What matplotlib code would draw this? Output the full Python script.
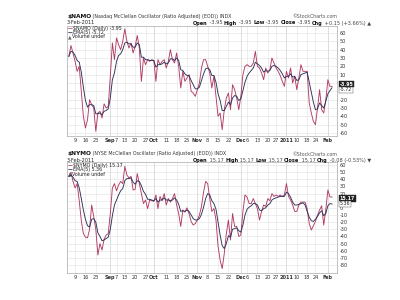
import numpy as np
import pandas as pd
import matplotlib.pyplot as plt

# trading days shown (Aug 4 2010 .. Feb 3 2011, market holidays removed)
holidays = ['2010-09-06', '2010-11-25', '2010-12-24', '2011-01-17']
days = pd.bdate_range('2010-08-04', '2011-02-03')
days = days[~days.isin(pd.to_datetime(holidays))]

# $NAMO daily and its EMA(5)
namo = [32, 45, 36, 26, 14, 20, -10, -40, -54, -44,
        -20, -26, -30, -58, -36, -34, -42, -25, -30, -28,
        8, 48, 28, 54, 46, 40, 50, 65, 50, 42,
        48, 36, 44, 57, 42, 2, 30, 22, 28, 26,
        28, 27, 2, 28, 22, 26, 28, 18, 26, 40,
        28, 24, 36, 20, -6, 14, 2, 6, 10, -10,
        -12, -16, -8, 0, 18, 28, 28, 20, 12, -6,
        8, -16, -40, -36, -56, -32, -18, -12, -32, -2,
        -8, -18, -32, -16, 10, 20, 22, 20, 20, 24,
        38, 20, 18, 12, 4, 18, 12, 16, 30, 24,
        18, 14, 9, 2, -4, 14, 6, 18, 0, 8,
        -8, 6, 22, 14, 14, 14, -24, -36, -46, -50,
        -30, -8, -32, -36, -20, 4, -4.10, -3.95]
namo_ema = [32, 38, 37, 33, 27, 25, 13, -5, -21, -29,
            -26, -26, -27, -37, -37, -36, -38, -34, -33, -31,
            -18, 4, 12, 26, 33, 35, 40, 48, 49, 47,
            47, 43, 43, 48, 46, 31, 31, 28, 28, 27,
            27, 27, 19, 22, 22, 23, 25, 23, 24, 29,
            29, 27, 30, 27, 16, 15, 11, 9, 9, 3,
            -2, -7, -7, -5, 3, 11, 17, 18, 16, 9,
            9, 1, -13, -21, -33, -33, -28, -23, -26, -18,
            -15, -16, -21, -19, -9, 1, 8, 12, 15, 18,
            25, 23, 21, 18, 13, 15, 14, 15, 20, 21,
            20, 18, 15, 11, 6, 8, 8, 11, 7, 8,
            3, 4, 10, 11, 12, 13, 1, -11, -23, -32,
            -31, -24, -27, -30, -22, -13, -9, -5.72]

# $NYMO daily and its EMA(5)
nymo = [44, 50, 37, 28, 34, 10, -18, -36, -41, -42,
        -30, 4, -12, -30, -66, -50, -59, -44, -38, -36,
        -8, 28, 34, 24, 32, 37, 34, 58, 46, 42,
        44, 25, 26, 48, 34, 20, 6, 11, -1, 11,
        10, 9, 18, -1, 16, 10, 20, 4, 13, 8,
        13, 20, 4, -8, -26, -3, -6, 0, -8, -19,
        -24, -22, -17, -10, 2, 22, 37, 34, 13, -5,
        -1, -17, -54, -73, -85, -64, -36, -17, -45, -8,
        -26, -26, -40, -38, -5, 18, 15, 6, 6, 13,
        6, -1, -17, -5, 4, 2, 13, 10, 20, 16,
        18, 16, 18, 16, 18, 34, 16, 11, 4, -5,
        -5, 4, 8, 8, 8, -1, -22, -31, -25, -19,
        -10, -3, 3, -24, -2, 25, 15.25, 15.17]
nymo_ema = [44, 46, 43, 38, 37, 28, 13, -3, -16, -25,
            -27, -16, -15, -20, -35, -40, -46, -45, -43, -41,
            -30, -11, 4, 11, 18, 24, 27, 38, 41, 41,
            42, 36, 33, 38, 37, 31, 23, 19, 12, 12,
            11, 10, 13, 8, 11, 11, 14, 11, 11, 10,
            11, 14, 11, 5, -5, -4, -5, -3, -5, -10,
            -15, -17, -17, -15, -9, 1, 13, 20, 18, 10,
            6, -2, -20, -38, -53, -57, -50, -39, -41, -30,
            -29, -28, -32, -34, -24, -10, -2, 1, 3, 6,
            6, 4, -3, -4, -1, 0, 4, 6, 11, 13,
            14, 15, 16, 16, 16, 22, 20, 15, 8, 4,
            4, 5, 6, 7, 4, -5, -13, -18, -19, -16,
            -12, -7, -4, -11, -8, 3, 6, 5.36]

# x axis labels
tick_dates = ['2010-08-09', '2010-08-16', '2010-08-23', '2010-09-01', '2010-09-07',
              '2010-09-13', '2010-09-20', '2010-09-27', '2010-10-01', '2010-10-11',
              '2010-10-18', '2010-10-25', '2010-11-01', '2010-11-08', '2010-11-15',
              '2010-11-22', '2010-12-01', '2010-12-06', '2010-12-13', '2010-12-20',
              '2010-12-27', '2011-01-03', '2011-01-10', '2011-01-18', '2011-01-24',
              '2011-02-01']
tick_labels = ['9', '16', '23', 'Sep', '7', '13', '20', '27', 'Oct', '11', '18', '25',
               'Nov', '8', '15', '22', 'Dec', '6', '13', '20', '27', '2011', '10', '18',
               '24', 'Feb']
month_labels = ['Sep', 'Oct', 'Nov', 'Dec', '2011', 'Feb']

c_daily = '#b23a64'
c_ema = '#2b3158'
fs = 3.6

x = np.arange(len(days))
tick_pos = days.get_indexer(pd.to_datetime(tick_dates))

fig = plt.figure(figsize=(4, 3), dpi=100)
fig.patch.set_facecolor('white')


def px(xp, yp):
    # pixel position -> figure fraction
    return xp / 400, 1 - yp / 300


def panel(ax, daily, ema, ylim, yticks, hidden, box_off, title, ohlc, leg1, leg2, top_px):
    ax.plot(x, daily, color=c_daily, lw=0.65, zorder=3)
    ax.plot(x, ema, color=c_ema, lw=0.65, zorder=4)
    ax.set_xlim(-0.9, 129.4)
    ax.set_ylim(*ylim)
    ax.yaxis.tick_right()
    ax.set_yticks(yticks)
    # the last-value boxes sit over these tick labels
    ax.set_yticklabels(['' if t in hidden else str(t) for t in yticks])
    ax.set_xticks(tick_pos)
    ax.set_xticklabels(tick_labels)
    for lab in ax.get_xticklabels():
        if lab.get_text() in month_labels:
            lab.set_fontweight('bold')
    ax.tick_params(axis='both', length=0, labelsize=fs, colors='#333333')
    ax.tick_params(axis='y', pad=2)
    ax.tick_params(axis='x', pad=1.5)
    ax.grid(True, color='#e2e2e2', lw=0.4)
    for p, lab in zip(tick_pos, tick_labels):
        if lab in month_labels:
            ax.axvline(p, color='#c8c8c8', lw=0.5, zorder=1)
    for s in ax.spines.values():
        s.set_color('#aaaaaa')
        s.set_linewidth(0.5)

    # last value boxes
    ax.annotate('%.2f' % daily[-1], xy=(1, daily[-1]), xycoords=ax.get_yaxis_transform(),
                xytext=(2, box_off[0]), textcoords='offset points', fontsize=3.4,
                color='white', fontweight='bold', va='center', ha='left',
                annotation_clip=False,
                bbox=dict(boxstyle='square,pad=0.15', fc='#222222', ec='#222222', lw=0.3))
    ax.annotate('%.2f' % ema[-1], xy=(1, ema[-1]), xycoords=ax.get_yaxis_transform(),
                xytext=(2, box_off[1]), textcoords='offset points', fontsize=3.4,
                color='#222222', va='center', ha='left', annotation_clip=False,
                bbox=dict(boxstyle='square,pad=0.15', fc='white', ec='#444444', lw=0.3))

    # title line
    a = ax.annotate(title[0], xy=px(67, top_px), xycoords='figure fraction',
                    fontsize=4.2, fontweight='bold', va='center', ha='left', color='#111111')
    ax.annotate(' ' + title[1], xy=(1, 0.5), xycoords=a, fontsize=3.4,
                va='center', ha='left', color='#333333')
    ax.annotate('\u00a9StockCharts.com', xy=px(337, top_px), xycoords='figure fraction',
                fontsize=3.4, va='center', ha='right', color='#555555')

    # date / OHLC line
    ax.annotate('3-Feb-2011', xy=px(67, top_px + 6.5), xycoords='figure fraction',
                fontsize=fs, va='center', ha='left', color='#222222')
    prev = ax.annotate(ohlc[0][0], xy=px(193, top_px + 6.5), xycoords='figure fraction',
                       fontsize=fs, fontweight='bold', va='center', ha='left', color='#111111')
    for s, b in ohlc[1:]:
        prev = ax.annotate(s, xy=(1, 0.5), xycoords=prev, fontsize=fs,
                           fontweight='bold' if b else 'normal', va='center', ha='left',
                           color='#111111' if b else '#444444')

    # legend
    items = [('\u2014', leg1, c_daily), ('\u2014', leg2, c_ema),
             ('\u25b2', 'Volume undef', '#666666')]
    for k, (sym, txt, col) in enumerate(items):
        yy = top_px + 12 + 4 * k
        m = ax.annotate(sym, xy=px(68, yy), xycoords='figure fraction', fontsize=3.4,
                        va='center', ha='left', color=col, fontweight='bold')
        ax.annotate(txt, xy=(1, 0.5), xycoords=m, fontsize=3.4, va='center',
                    ha='left', color='#222222')


ax1 = fig.add_axes([67 / 400, 1 - 136 / 300, 270 / 400, 110 / 300])
ax2 = fig.add_axes([67 / 400, 1 - 273 / 300, 270 / 400, 111 / 300])

panel(ax1, namo, namo_ema, (-63.6, 68.4), list(range(60, -70, -10)), [0, -10], (1.5, -1.5),
      (r'\$NAMO', '(Nasdaq McClellan Oscillator (Ratio Adjusted) (EOD)) INDX'),
      [('Open', True), (' -3.95 ', False), ('High', True), (' -3.95 ', False),
       ('Low', True), (' -3.95 ', False), ('Close', True), (' -3.95 ', False),
       ('Chg', True), (' +0.15 (+3.66%) \u25b2', False)],
      r'\$NAMO (Daily) -3.95', 'EMA(5) -5.72', 16.5)

panel(ax2, nymo, nymo_ema, (-91.2, 64.2), list(range(60, -90, -10)), [10], (-1.2, 0.2),
      (r'\$NYMO', '(NYSE McClellan Oscillator (Ratio Adjusted) (EOD)) INDX'),
      [('Open', True), (' 15.17 ', False), ('High', True), (' 15.17 ', False),
       ('Low', True), (' 15.17 ', False), ('Close', True), (' 15.17 ', False),
       ('Chg', True), (' -0.08 (-0.53%) \u25bc', False)],
      r'\$NYMO (Daily) 15.17', 'EMA(5) 5.36', 154)

fig.savefig('out.png', dpi=100, facecolor='white')
